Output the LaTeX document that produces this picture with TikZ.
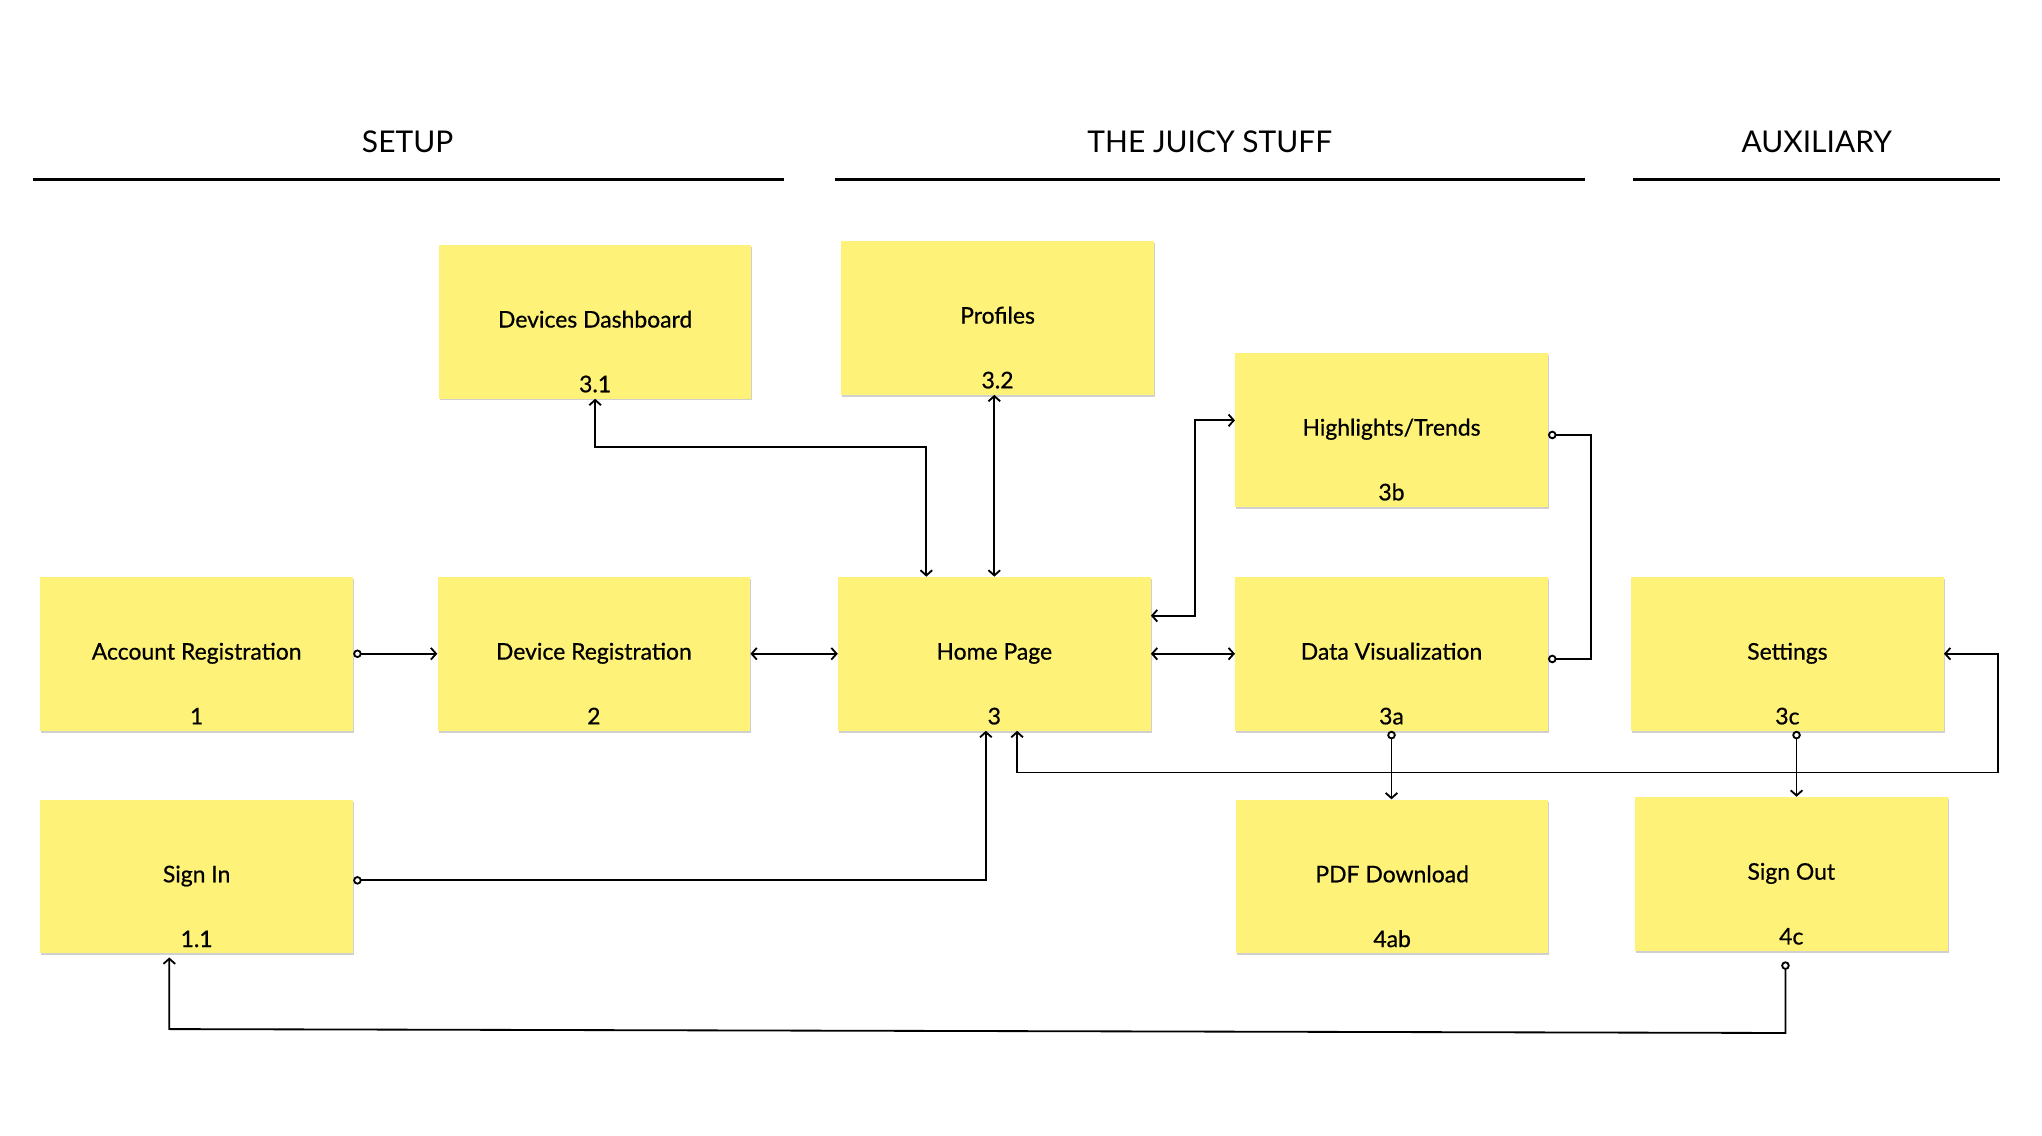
\documentclass[tikz,border=0pt]{standalone}
\usepackage{fontspec}
\setmainfont{Lato}
\newfontfamily\medfont{Lato}[FakeBold=0.6]
\usetikzlibrary{arrows.meta,calc,shadows}
\definecolor{sticky}{RGB}{254,242,120}
\begin{document}
\begin{tikzpicture}[x=1pt,y=-1pt,
  box/.style={fill=sticky, minimum width=240pt, minimum height=118pt, inner sep=0pt,
    text height=0.9em, text depth=0em, font=\medfont\fontsize{17.6}{20}\selectfont,
    drop shadow={shadow xshift=0.8pt, shadow yshift=-1.5pt, fill=black!30, opacity=0.6}},
  num/.style={anchor=base, yshift=5pt, inner sep=0pt, font=\medfont\fontsize{17.6}{20}\selectfont},
  head/.style={font=\fontsize{23}{26}\selectfont, anchor=base},
  rule/.style={line width=2.4pt},
  conn/.style={line width=1.4pt, line join=miter},
  aa/.style={conn, {Straight Barb[length=4pt,width=9pt]}-{Straight Barb[length=4pt,width=9pt]}},
  ca/.style={conn, {Circle[open,fill=white,length=6.5pt,width=6.5pt]}-{Straight Barb[length=4pt,width=9pt]}},
  cc/.style={conn, {Circle[open,fill=white,length=6.5pt,width=6.5pt]}-{Circle[open,fill=white,length=6.5pt,width=6.5pt]}}
]
\useasboundingbox (0,0) rectangle (1568,872);
\fill[white] (0,0) rectangle (1568,872);

% headers
\node[head] (hsetup) at (313,117) {SETUP};
\node[head] (hjuicy) at (929,117) {THE JUICY STUFF};
\node[head] (haux) at (1395,117) {AUXILIARY};
\draw[rule] (25,138) -- (602,138);
\draw[rule] (641,138) -- (1217,138);
\draw[rule] (1254,138) -- (1536,138);

% boxes
\node[box] (dd) at (457,247) {Devices Dashboard};
\node[num] (ddn) at (dd.south) {3.1};
\node[box] (prof) at (766,244) {Profiles};
\node[num] (profn) at (prof.south) {3.2};
\node[box] (hl) at (1068.5,330) {Highlights/Trends};
\node[num] (hln) at (hl.south) {3b};
\node[box] (acc) at (151,502) {Account Registration};
\node[num] (accn) at (acc.south) {1};
\node[box] (dev) at (456,502) {Device Registration};
\node[num] (devn) at (dev.south) {2};
\node[box] (home) at (763.5,502) {Home Page};
\node[num] (homen) at (home.south) {3};
\node[box] (dv) at (1068.5,502) {Data Visualization};
\node[num] (dvn) at (dv.south) {3a};
\node[box] (set) at (1372.5,502) {Settings};
\node[num] (setn) at (set.south) {3c};
\node[box] (si) at (151,673) {Sign In};
\node[num] (sin) at (si.south) {1.1};
\node[box] (pdf) at (1069,673) {PDF Download};
\node[num] (pdfn) at (pdf.south) {4ab};
\node[box] (so) at (1375.5,671) {Sign Out};
\node[num] (son) at (so.south) {4c};

% connectors
\draw[ca] (acc.east) -- (dev.west);
\draw[aa] (dev.east) -- (home.west);
\draw[aa] (home.east) -- (dv.west);
\draw[aa] (dd.south) -- ++(0,37) -| ($(home.north west)+(68,0)$);
\draw[aa] (prof.south -| home.north) -- (home.north);
\draw[aa] ($(home.north east)+(0,30)$) -- ++(34,0) |- ($(hl.north west)+(0,52)$);
\draw[cc] ($(hl.east)+(0,4)$) -- ++(33,0) |- ($(dv.east)+(0,4)$);
\draw[ca] (dv.south) -- (dv.south |- pdf.north);
\coordinate (s1) at ($(set.south)+(7,0)$);
\draw[ca] (s1) -- (s1 |- so.north);
\draw[aa] ($(home.south)+(17.5,0)$) -- ++(0,32) -- ++(753,0) |- (set.east);
\draw[ca] ($(si.east)+(0,3)$) -| ($(home.south)+(-6.5,0)$);
\coordinate (soout) at ($(so.south)+(-4.5,8)$);
\coordinate (siin) at ($(si.south)+(-21,3)$);
\draw[ca] (soout) -- ++(0,55) -- ++(-1241,-3) -- (siin);
\end{tikzpicture}
\end{document}
